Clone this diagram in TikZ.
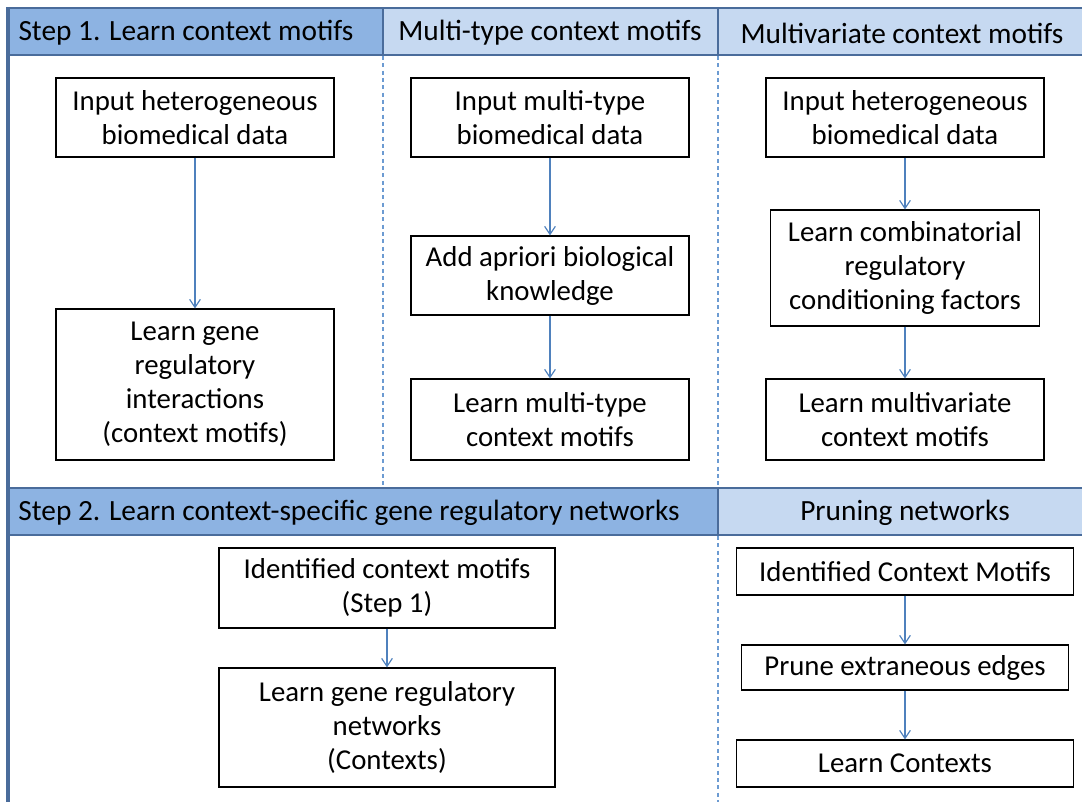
\documentclass[tikz,border=0pt]{standalone}
\usepackage{fontspec}
\setmainfont{Carlito}
\usetikzlibrary{arrows.meta}
\definecolor{hdark}{HTML}{8DB3E2}
\definecolor{hlight}{HTML}{C6D9F1}
\definecolor{frame}{HTML}{4A6C9B}
\definecolor{dashc}{HTML}{6C9BD2}
\definecolor{arrc}{HTML}{4F81BD}
\tikzset{
  box/.style={draw=black, line width=0.8pt, fill=white, align=center, inner sep=2pt,
    font=\fontsize{21.6pt}{25.5pt}\selectfont},
  htext/.style={font=\fontsize{22pt}{25.5pt}\selectfont, inner sep=0pt},
  arr/.style={draw=arrc, line width=0.9pt, -{Straight Barb[length=6pt,width=8pt,line width=0.9pt]}},
  sep/.style={draw=dashc, line width=1pt, dash pattern=on 3pt off 2.5pt},
  frameline/.style={draw=frame, line width=1.6pt},
}
\begin{document}
\begin{tikzpicture}[x=0.75pt,y=-0.75pt]
\useasboundingbox (0,0) rectangle (1082,802);
% header fills
\fill[hdark] (8,8) rectangle (383,55);
\fill[hlight] (383,8) rectangle (718,55);
\fill[hlight] (718,8) rectangle (1082,55);
\fill[hdark] (8,488) rectangle (718,535);
\fill[hlight] (718,488) rectangle (1082,535);
% header lines
\draw[frameline] (8,8) -- (1082,8);
\draw[frameline] (8,55) -- (1082,55);
\draw[frameline] (8,488) -- (1082,488);
\draw[frameline] (8,535) -- (1082,535);
\draw[frameline] (383,8) -- (383,55);
\draw[frameline] (718,8) -- (718,55);
\draw[frameline] (718,488) -- (718,535);
\draw[draw=frame, line width=2.4pt] (8,7) -- (8,802);
% dashed separators
\draw[sep] (383,56) -- (383,487);
\draw[sep] (718,56) -- (718,487);
\draw[sep] (718,536) -- (718,802);
% header texts
\node[htext] (h1) at (186,33) {Step 1. Learn context motifs};
\node[htext] (h2) at (550,33) {Multi-type context motifs};
\node[htext] (h3) at (902,33) {Multivariate context motifs};
\node[htext] (h4) at (349,513) {Step 2. Learn context-specific gene regulatory networks};
\node[htext] (h5) at (905,513) {Pruning networks};
% column 1
\node[box, minimum width=208.5pt, minimum height=59.25pt] (c1a) at (195,117.5) {Input heterogeneous\\biomedical data};
\node[box, minimum width=208.5pt, minimum height=113.25pt] (c1b) at (195,384.5) {Learn gene\\regulatory\\interactions\\(context motifs)};
% column 2
\node[box, minimum width=208.5pt, minimum height=59.25pt] (c2a) at (550,117.5) {Input multi-type\\biomedical data};
\node[box, minimum width=208.5pt, minimum height=59.25pt] (c2b) at (550,275.5) {Add apriori biological\\knowledge};
\node[box, minimum width=208.5pt, minimum height=60.75pt] (c2c) at (550,419.5) {Learn multi-type\\context motifs};
% column 3
\node[box, minimum width=208.5pt, minimum height=59.25pt] (c3a) at (905,117.5) {Input heterogeneous\\biomedical data};
\node[box, minimum width=201.75pt, minimum height=87pt] (c3b) at (905,268) {Learn combinatorial\\regulatory\\conditioning factors};
\node[box, minimum width=208.5pt, minimum height=60.75pt] (c3c) at (905,419.5) {Learn multivariate\\context motifs};
% step 2
\node[box, minimum width=252pt, minimum height=60pt] (s2a) at (387,588) {Identified context motifs\\(Step 1)};
\node[box, minimum width=252pt, minimum height=89.25pt] (s2b) at (387,727.5) {Learn gene regulatory\\networks\\(Contexts)};
% pruning
\node[box, minimum width=252.75pt, minimum height=35.25pt] (p1) at (905,571.5) {Identified Context Motifs};
\node[box, minimum width=245.25pt, minimum height=33.75pt] (p2) at (905,667.5) {Prune extraneous edges};
\node[box, minimum width=252.75pt, minimum height=35.25pt] (p3) at (905,763.5) {Learn Contexts};
% arrows
\draw[arr] (c1a) -- (c1b);
\draw[arr] (c2a) -- (c2b);
\draw[arr] (c2b) -- (c2c);
\draw[arr] (c3a) -- (c3b);
\draw[arr] (c3b) -- (c3c);
\draw[arr] (s2a) -- (s2b);
\draw[arr] (p1) -- (p2);
\draw[arr] (p2) -- (p3);
\end{tikzpicture}
\end{document}
